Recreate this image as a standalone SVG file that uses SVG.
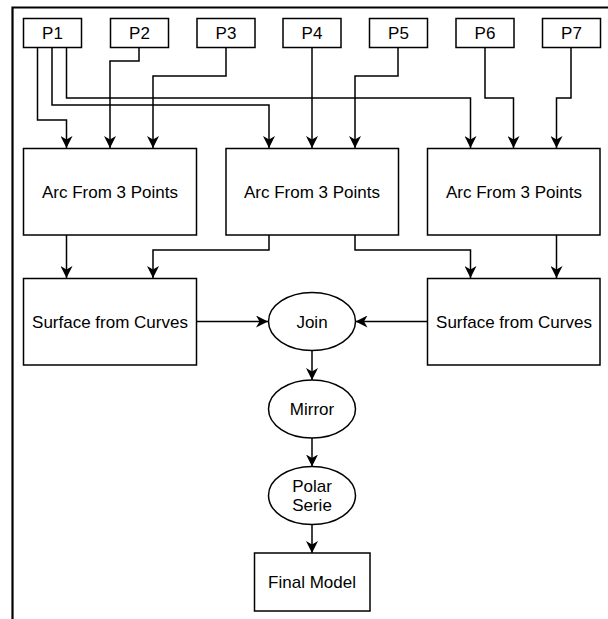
<svg xmlns="http://www.w3.org/2000/svg" width="608" height="619" viewBox="0 0 608 619">
<defs>
<style>
.box{fill:#fff;stroke:#000;stroke-width:1.5}
.lbl{font-family:"Liberation Sans",Arial,sans-serif;font-size:17px;fill:#000;text-anchor:middle;dominant-baseline:central}
.edge{fill:none;stroke:#000;stroke-width:1.5}
</style>
<marker id="arr" markerUnits="userSpaceOnUse" markerWidth="12" markerHeight="12" refX="12" refY="6" orient="auto" viewBox="0 0 12 12">
<path d="M0,0 L12,6 L0,12 L3.5,6 Z" fill="#000"/>
</marker>
</defs>
<rect width="608" height="619" fill="#fff"/>
<path d="M12.5,619 V7.5 H608" fill="none" stroke="#000" stroke-width="2.2"/>
<g id="edges">
<path class="edge" marker-end="url(#arr)" d="M37.5,47 V120 H66.5 V148"/>
<path class="edge" marker-end="url(#arr)" d="M52,47 V105 H269 V148"/>
<path class="edge" marker-end="url(#arr)" d="M66.5,47 V98 H470.5 V148"/>
<path class="edge" marker-end="url(#arr)" d="M139,47 V61 H110 V148"/>
<path class="edge" marker-end="url(#arr)" d="M226,47 V76 H153 V148"/>
<path class="edge" marker-end="url(#arr)" d="M312,47 V148"/>
<path class="edge" marker-end="url(#arr)" d="M398,47 V76 H355 V148"/>
<path class="edge" marker-end="url(#arr)" d="M485,47 V98 H513.5 V148"/>
<path class="edge" marker-end="url(#arr)" d="M571,47 V98 H556.5 V148"/>
<path class="edge" marker-end="url(#arr)" d="M66.5,235 V278"/>
<path class="edge" marker-end="url(#arr)" d="M269,235 V250 H153 V278"/>
<path class="edge" marker-end="url(#arr)" d="M355,235 V250 H470.5 V278"/>
<path class="edge" marker-end="url(#arr)" d="M556.5,235 V278"/>
<path class="edge" marker-end="url(#arr)" d="M197,321.5 H268"/>
<path class="edge" marker-end="url(#arr)" d="M427,321.5 H355.5"/>
<path class="edge" marker-end="url(#arr)" d="M312,350.5 V380"/>
<path class="edge" marker-end="url(#arr)" d="M312,438 V466.5"/>
<path class="edge" marker-end="url(#arr)" d="M312,524.5 V553"/>
</g>
<g id="p1"><rect class="box" x="23.5" y="18.5" width="58" height="29"/><text class="lbl" x="52.5" y="33">P1</text></g>
<g id="p2"><rect class="box" x="110.5" y="18.5" width="58" height="29"/><text class="lbl" x="139.5" y="33">P2</text></g>
<g id="p3"><rect class="box" x="197" y="18.5" width="58" height="29"/><text class="lbl" x="226" y="33">P3</text></g>
<g id="p4"><rect class="box" x="283" y="18.5" width="58" height="29"/><text class="lbl" x="312" y="33">P4</text></g>
<g id="p5"><rect class="box" x="369.5" y="18.5" width="58" height="29"/><text class="lbl" x="398.5" y="33">P5</text></g>
<g id="p6"><rect class="box" x="456" y="18.5" width="58" height="29"/><text class="lbl" x="485" y="33">P6</text></g>
<g id="p7"><rect class="box" x="542.5" y="18.5" width="58" height="29"/><text class="lbl" x="571.5" y="33">P7</text></g>
<g id="arc1"><rect class="box" x="23.5" y="148.5" width="173" height="86.5"/><text class="lbl" x="110" y="192">Arc From 3 Points</text></g>
<g id="arc2"><rect class="box" x="226" y="148.5" width="172.5" height="86.5"/><text class="lbl" x="312" y="192">Arc From 3 Points</text></g>
<g id="arc3"><rect class="box" x="427.5" y="148.5" width="172.5" height="86.5"/><text class="lbl" x="514" y="192">Arc From 3 Points</text></g>
<g id="surf1"><rect class="box" x="23.5" y="278.5" width="173" height="86.5"/><text class="lbl" x="110" y="322">Surface from Curves</text></g>
<g id="surf2"><rect class="box" x="427.5" y="278.5" width="172.5" height="86.5"/><text class="lbl" x="514" y="322">Surface from Curves</text></g>
<g id="join"><ellipse class="box" cx="312" cy="321.5" rx="43.5" ry="29"/><text class="lbl" x="312" y="322">Join</text></g>
<g id="mirror"><ellipse class="box" cx="312" cy="409" rx="43.5" ry="29"/><text class="lbl" x="312" y="409">Mirror</text></g>
<g id="polar"><ellipse class="box" cx="312" cy="495.5" rx="43.5" ry="29"/><text class="lbl" x="312" y="486">Polar</text><text class="lbl" x="312" y="505">Serie</text></g>
<g id="final"><rect class="box" x="254.5" y="553" width="115.5" height="58"/><text class="lbl" x="312" y="582">Final Model</text></g>
</svg>
